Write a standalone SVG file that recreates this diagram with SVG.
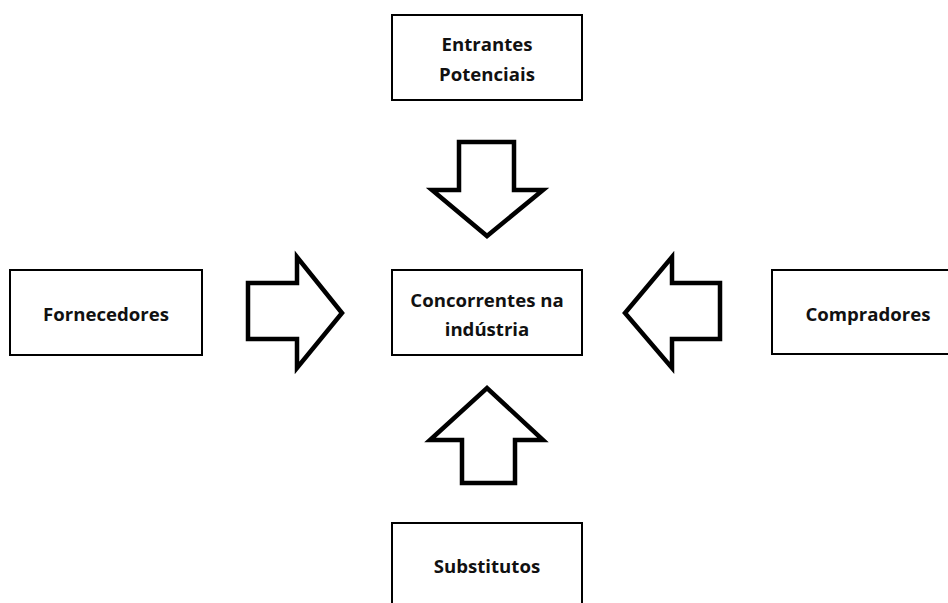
<svg xmlns="http://www.w3.org/2000/svg" width="948" height="603" viewBox="0 0 948 603">
<style>
.box{fill:#fff;stroke:#000;stroke-width:2}
.arr{fill:#fff;stroke:#000;stroke-width:4.5;stroke-linejoin:miter}
.t{font-family:"Open Sans","Liberation Sans",sans-serif;font-weight:700;font-size:18.6px;fill:#111;text-anchor:middle}
</style>
<rect width="948" height="603" fill="#fff"/>
<g id="entrantes">
<rect class="box" x="392" y="15" width="190" height="85"/>
<text class="t" x="487" y="51">Entrantes</text>
<text class="t" x="487" y="81">Potenciais</text>
</g>
<g id="fornecedores">
<rect class="box" x="10" y="270" width="192" height="85"/>
<text class="t" x="106" y="321">Fornecedores</text>
</g>
<g id="concorrentes">
<rect class="box" x="392" y="270" width="190" height="85"/>
<text class="t" x="487" y="307">Concorrentes na</text>
<text class="t" x="487" y="336">indústria</text>
</g>
<g id="compradores">
<rect class="box" x="772" y="270" width="190" height="84"/>
<text class="t" x="868" y="321">Compradores</text>
</g>
<g id="substitutos">
<rect class="box" x="392" y="523" width="190" height="100"/>
<text class="t" x="487" y="573">Substitutos</text>
</g>
<g id="connectors">
<polygon class="arr" points="459,142 514,142 514,190 543,190 487,236 432,190 459,190"/>
<polygon class="arr" points="248,283 297,283 297,257 342,313 297,368 297,339 248,339"/>
<polygon class="arr" points="720,283 672,283 672,257 625,313 672,368 672,339 720,339"/>
<polygon class="arr" points="462,483 515,483 515,440 543,440 487,388 430,440 462,440"/>
</g>
</svg>
